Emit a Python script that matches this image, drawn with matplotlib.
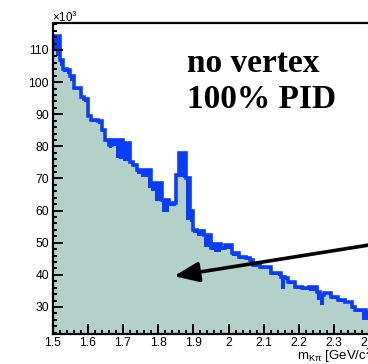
import numpy as np
import matplotlib
matplotlib.use("Agg")
import matplotlib.pyplot as plt
from matplotlib.ticker import MultipleLocator, FuncFormatter

# ---- data (counts in units of 10^3), bins of 0.01 GeV/c^2 starting at 1.50 ----
bin_lo = 1.50
bin_width = 0.01
upper = [114.4, 114.4, 107.0, 104.0, 103.8, 102.0, 98.2, 98.2, 95.5, 94.7,
         89.5, 88.2, 88.2, 88.0, 85.1, 82.0, 80.5, 82.0, 82.0, 82.0,
         80.4, 81.0, 75.2, 74.2, 72.6, 72.6, 72.6, 72.6, 68.7, 68.5,
         68.5, 63.3, 63.3, 62.3, 62.5, 71.0, 78.0, 78.0, 70.3, 60.0,
         54.0, 53.8, 53.8, 52.4, 52.4, 48.4, 49.6, 49.6, 48.4, 49.3,
         49.3, 46.7, 46.7, 45.7, 45.7, 45.2, 44.5, 43.1, 43.1, 42.3,
         42.3, 42.3, 40.5, 40.5, 40.5, 39.4, 39.1, 37.9, 37.9, 36.3,
         36.3, 36.0, 36.0, 36.3, 36.3, 34.8, 33.8, 34.5, 34.5, 33.2,
         33.2, 32.2, 32.2, 31.7, 31.7, 30.1, 29.1, 29.1, 29.1, 28.0]
lower = [110.0, 108.0, 105.0, 103.0, 102.5, 100.5, 97.5, 97.5, 95.0, 93.8,
         89.0, 87.5, 87.5, 87.0, 84.5, 81.5, 79.5, 80.0, 76.5, 76.0,
         75.5, 75.5, 74.5, 73.5, 71.5, 70.5, 70.5, 67.0, 66.0, 63.0,
         63.0, 59.5, 59.5, 61.5, 61.5, 70.5, 70.5, 70.0, 57.0, 56.6,
         53.0, 52.2, 52.2, 48.6, 48.6, 47.8, 47.0, 47.0, 47.8, 48.2,
         48.2, 46.0, 46.0, 45.0, 45.0, 44.6, 43.2, 42.5, 42.5, 41.7,
         41.7, 41.7, 39.9, 39.9, 39.5, 35.5, 38.5, 37.3, 37.3, 35.7,
         35.7, 35.4, 35.4, 35.0, 35.0, 32.2, 30.6, 33.9, 33.9, 32.6,
         32.6, 31.6, 31.6, 31.1, 31.1, 29.5, 28.5, 28.5, 26.0, 25.9]

x_major = [1.5, 1.6, 1.7, 1.8, 1.9, 2.0, 2.1, 2.2, 2.3, 2.4, 2.5]
y_major = [30, 40, 50, 60, 70, 80, 90, 100, 110]

edges = bin_lo + bin_width * np.arange(len(upper) + 1)

BLUE = "#0a3cff"
TEAL = "#b3d1c8"

plt.rcParams["font.family"] = ["Liberation Sans", "DejaVu Sans"]
plt.rcParams["mathtext.fontset"] = "custom"
plt.rcParams["mathtext.rm"] = "Liberation Sans"
plt.rcParams["mathtext.it"] = "Liberation Sans:italic"

W, H = 368, 364
fig = plt.figure(figsize=(W / 100, H / 100), dpi=100)
left_px, bottom_px, top_px = 52.5, 333.5, 23.0
ax_w_px = 352.0  # 1.0 GeV span
ax = fig.add_axes([left_px / W, (H - bottom_px) / H, ax_w_px / W, (bottom_px - top_px) / H])

ax.stairs(upper, edges, fill=True, color=BLUE, baseline=0)
ax.stairs(lower, edges, fill=True, color=TEAL, baseline=0)
ax.stairs(upper, edges, fill=False, color=BLUE, lw=2.6, baseline=None)

ax.set_xlim(1.5, 2.5)
ax.set_ylim(21.75, 118.4)

ax.set_xticks(x_major)
ax.set_yticks(y_major)
ax.xaxis.set_minor_locator(MultipleLocator(0.02))
ax.yaxis.set_minor_locator(MultipleLocator(2))
ax.xaxis.set_major_formatter(FuncFormatter(lambda v, p: f"{v:g}"))
ax.yaxis.set_major_formatter(FuncFormatter(lambda v, p: f"{v:g}"))
ax.tick_params(which="both", direction="in", top=False, right=False,
               width=1.4, color="black", labelsize=8.7, pad=2.5)
ax.tick_params(which="major", length=7)
ax.tick_params(which="minor", length=3.2)
for s in ax.spines.values():
    s.set_linewidth(1.6)

fig.text(52 / W, 1 - 17 / H, r"$\times$10$^{3}$", fontsize=8.3, ha="left", va="center")
fig.text(297 / W, 1 - 360 / H, r"m$_{\mathrm{K\pi}}$ [GeV/c$^{2}$]", fontsize=9.5,
         ha="left", va="baseline")

fig.text(187 / W, 1 - 72 / H, "no vertex", family="Liberation Serif",
         fontweight="bold", fontsize=24, ha="left", va="baseline")
fig.text(187 / W, 1 - 108 / H, "100% PID", family="Liberation Serif",
         fontweight="bold", fontsize=24, ha="left", va="baseline")

ax.annotate("", xy=(1.845, 39.6), xytext=(2.6, 52.8), xycoords="data",
            textcoords="data", annotation_clip=False,
            arrowprops=dict(arrowstyle="-|>,head_length=0.75,head_width=0.3",
                            mutation_scale=20, lw=2.6, color="black",
                            shrinkA=0, shrinkB=0))

fig.savefig("out.png", dpi=100)
